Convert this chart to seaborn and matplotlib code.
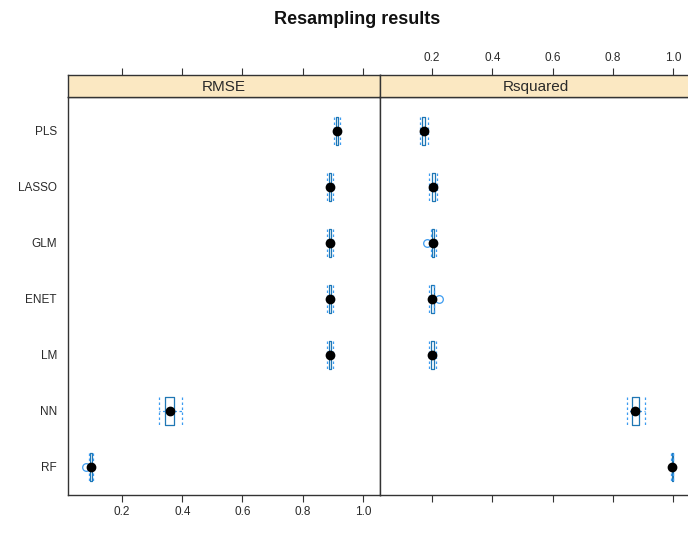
import pandas as pd
import seaborn as sns
import matplotlib.pyplot as plt

# resampling results per model
models = ['PLS', 'LASSO', 'GLM', 'ENET', 'LM', 'NN', 'RF']

rmse = {
    'PLS':   [0.905, 0.908, 0.911, 0.913, 0.914, 0.916, 0.918, 0.920, 0.923],
    'LASSO': [0.881, 0.884, 0.887, 0.889, 0.891, 0.893, 0.895, 0.898, 0.901],
    'GLM':   [0.881, 0.884, 0.887, 0.889, 0.891, 0.893, 0.895, 0.898, 0.901],
    'ENET':  [0.881, 0.884, 0.887, 0.889, 0.890, 0.892, 0.894, 0.897, 0.900],
    'LM':    [0.882, 0.885, 0.887, 0.889, 0.891, 0.893, 0.895, 0.898, 0.901],
    'NN':    [0.323, 0.335, 0.343, 0.352, 0.359, 0.365, 0.373, 0.386, 0.399],
    'RF':    [0.082, 0.091, 0.094, 0.096, 0.097, 0.098, 0.100, 0.102, 0.104],
}
rsquared = {
    'PLS':   [0.160, 0.164, 0.168, 0.171, 0.173, 0.175, 0.178, 0.181, 0.185],
    'LASSO': [0.190, 0.194, 0.198, 0.201, 0.203, 0.205, 0.208, 0.211, 0.215],
    'GLM':   [0.184, 0.196, 0.199, 0.201, 0.203, 0.205, 0.207, 0.209, 0.212],
    'ENET':  [0.189, 0.192, 0.195, 0.198, 0.200, 0.202, 0.205, 0.207, 0.222],
    'LM':    [0.188, 0.192, 0.195, 0.198, 0.200, 0.202, 0.205, 0.208, 0.212],
    'NN':    [0.847, 0.856, 0.864, 0.870, 0.874, 0.880, 0.887, 0.897, 0.907],
    'RF':    [0.992, 0.993, 0.995, 0.996, 0.997, 0.997, 0.998, 0.999, 0.999],
}
metrics = ['RMSE', 'Rsquared']
ticks = [0.2, 0.4, 0.6, 0.8, 1.0]


def plot_resamples():
    rows = []
    for metric, table in zip(metrics, [rmse, rsquared]):
        for m in models:
            for v in table[m]:
                rows.append({'metric': metric, 'model': m, 'value': v})
    df = pd.DataFrame(rows)

    sns.set_style('white')
    plt.rcParams['font.family'] = ['Liberation Sans', 'DejaVu Sans']
    fig = plt.figure(figsize=(6.88, 5.33), dpi=100)

    W, H = 688, 533
    panels = [(68, 380, (0.0207, 1.0565)), (380, 692, (0.027, 1.0625))]
    top, strip_top, bottom = 97, 75, 495
    blue = '#3d9cf0'
    dark = '#333333'
    txt = '#2a2a2a'

    for i, (metric, (x0, x1, xlim)) in enumerate(zip(metrics, panels)):
        ax = fig.add_axes([x0 / W, 1 - bottom / H, (x1 - x0) / W, (bottom - top) / H])
        sub = df[df['metric'] == metric]
        sns.boxplot(data=sub, x='value', y='model', order=models, ax=ax,
                    fill=False, linecolor=blue, width=0.5, whis=1.5,
                    linewidth=0.9, capwidths=0.5,
                    medianprops={'visible': False},
                    whiskerprops={'linestyle': (0, (2, 2)), 'color': blue},
                    capprops={'linestyle': (0, (2, 2)), 'color': blue},
                    flierprops={'marker': 'o', 'markerfacecolor': 'none',
                                'markeredgecolor': blue, 'markersize': 5.5,
                                'markeredgewidth': 0.9})
        sns.pointplot(data=sub, x='value', y='model', order=models, ax=ax,
                      estimator='median', errorbar=None, linestyle='none',
                      color='black', markers='o', markersize=5)
        ax.set_xlim(*xlim)
        ax.set_ylim(6.5, -0.6)
        ax.set_xticks(ticks)
        ax.set_xlabel('')
        ax.set_ylabel('')
        ax.tick_params(axis='x', direction='out', length=5, width=0.8,
                       color=dark, labelsize=8.5, labelcolor=txt,
                       bottom=True, labelbottom=(i == 0), pad=3)
        ax.tick_params(axis='y', length=0, labelsize=8.5, labelcolor=txt,
                       labelleft=(i == 0), pad=8)
        for s in ax.spines.values():
            s.set_color(dark)
            s.set_linewidth(1.0)
        if i == 1:
            ax.spines['right'].set_visible(False)

        # strip with panel name; top ticks sit on it
        sax = fig.add_axes([x0 / W, 1 - top / H, (x1 - x0) / W, (top - strip_top) / H])
        sax.set_facecolor('#fbe8c2')
        sax.set_xlim(*xlim)
        sax.set_ylim(0, 1)
        sax.set_xticks(ticks)
        sax.set_yticks([])
        sax.tick_params(axis='x', direction='out', length=5, width=0.8,
                        color=dark, labelsize=8.5, labelcolor=txt,
                        bottom=False, labelbottom=False,
                        top=True, labeltop=(i == 1), pad=3)
        for s in sax.spines.values():
            s.set_color(dark)
            s.set_linewidth(1.0)
        if i == 1:
            sax.spines['right'].set_visible(False)
        sax.text(0.5, 0.45, metric, transform=sax.transAxes, ha='center',
                 va='center', fontsize=11, color=txt)

    fig.text(357 / W, 1 - 19 / H, 'Resampling results', ha='center',
             va='center', fontsize=13, fontweight='bold', color='#111111')

    fig.savefig('out.png', dpi=100)


if __name__ == '__main__':
    plot_resamples()
